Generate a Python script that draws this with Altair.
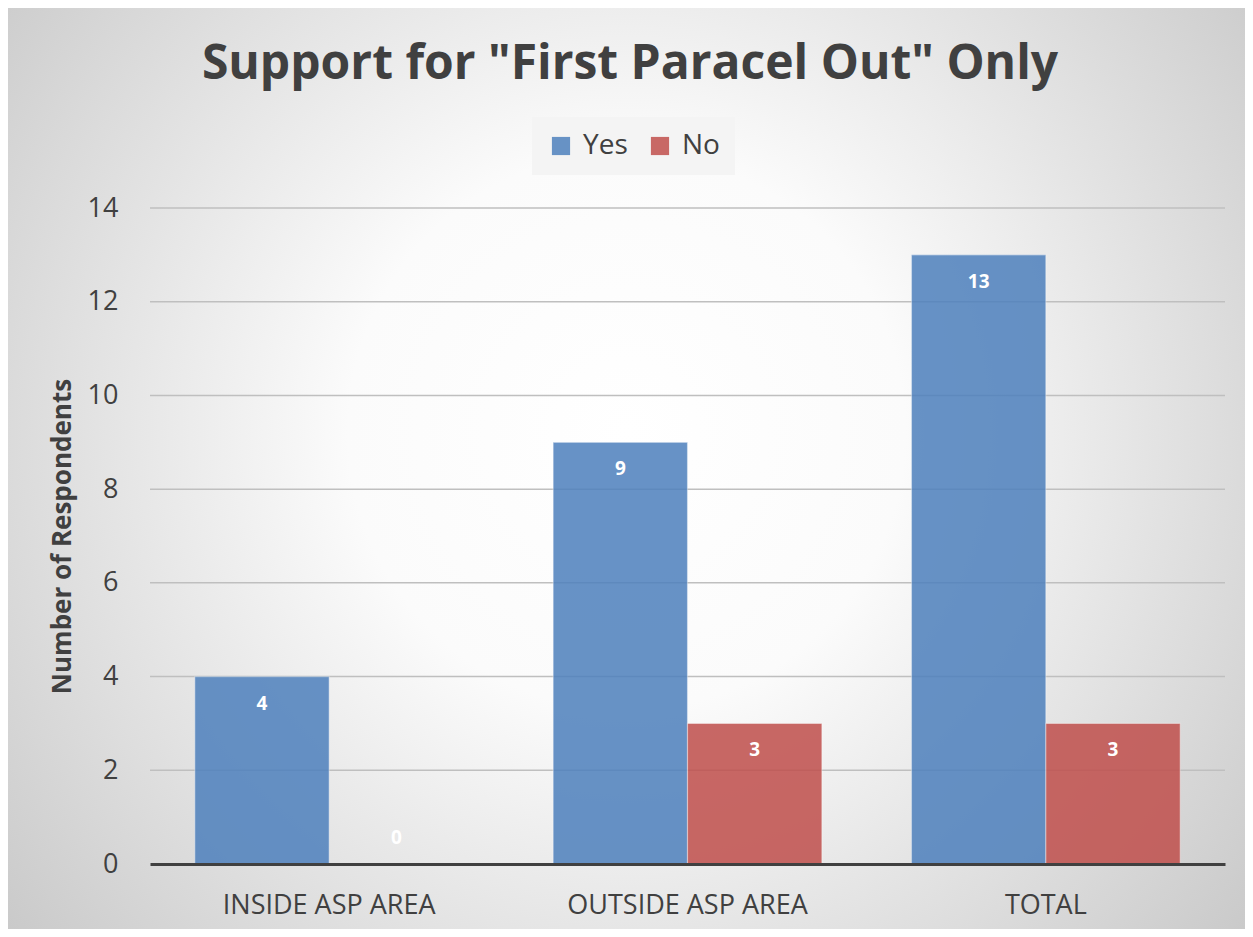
import altair as alt
import pandas as pd

categories = ["INSIDE ASP AREA", "OUTSIDE ASP AREA", "TOTAL"]
yes_values = [4, 9, 13]
no_values = [0, 3, 3]
series = ["Yes", "No"]
y_ticks = [0, 2, 4, 6, 8, 10, 12, 14]
title_text = 'Support for "First Paracel Out" Only'

rows = []
for c, y, n in zip(categories, yes_values, no_values):
    rows.append({"category": c, "series": "Yes", "value": y})
    rows.append({"category": c, "series": "No", "value": n})
df = pd.DataFrame(rows)
grid_df = pd.DataFrame({"value": y_ticks})

W, H = 1075, 656
PL, PT, PR, PB = 142, 200, 20, 65
FONT = "Open Sans"
TXT = "#404040"

bg = alt.Chart(pd.DataFrame({"a": [0]})).mark_rect(
    fill=alt.RadialGradient(
        gradient="radial",
        x1=0.5, y1=0.47, r1=0.0,
        x2=0.5, y2=0.47, r2=0.75,
        stops=[
            alt.GradientStop(offset=0, color="#ffffff"),
            alt.GradientStop(offset=0.3, color="#fbfbfb"),
            alt.GradientStop(offset=1, color="#bdbdbd"),
        ],
    )
).encode(
    x=alt.value(-PL), x2=alt.value(W + PR),
    y=alt.value(-PT), y2=alt.value(H + PB),
)

yscale = alt.Scale(domain=[0, 14])

grid = alt.Chart(grid_df).transform_filter("datum.value > 0").mark_rule(
    color="#bfbfbf", strokeWidth=1.5
).encode(
    y=alt.Y("value:Q", scale=yscale),
    x=alt.value(0), x2=alt.value(W),
)

xenc = alt.X("category:N", sort=categories, title=None,
             scale=alt.Scale(paddingInner=0.25, paddingOuter=0.125),
             axis=alt.Axis(labelAngle=0, labelFontSize=27, labelColor=TXT, labelFont=FONT,
                           labelPadding=28, labelLimit=0, ticks=False, domainColor=TXT,
                           domainWidth=3, grid=False, zindex=1))
yenc = alt.Y("value:Q", title="Number of Respondents", scale=yscale,
             axis=alt.Axis(values=y_ticks, labelFontSize=27,
                           labelColor=TXT, labelFont=FONT, labelPadding=32, ticks=False,
                           domain=False, grid=False, zindex=1,
                           titleFont=FONT, titleFontSize=26, titleFontWeight="bold",
                           titleColor=TXT, titlePadding=12))

bars = alt.Chart(df).mark_bar(opacity=0.86, strokeWidth=1.2, stroke="#ffffff", strokeOpacity=0.4).encode(
    x=xenc, y=yenc,
    xOffset=alt.XOffset("series:N", sort=series),
    color=alt.Color("series:N", sort=series, title=None,
                    scale=alt.Scale(domain=series, range=["#4f81bd", "#c0504d"]),
                    legend=alt.Legend(orient="none", legendX=382, legendY=-91,
                                      direction="horizontal", symbolType="square",
                                      symbolSize=330, symbolStrokeWidth=0,
                                      labelFontSize=28, labelFont=FONT, labelColor=TXT,
                                      fillColor="#f4f4f4", padding=15, columnPadding=18,
                                      labelOffset=8, zindex=1)),
)

lab_pos = alt.Chart(df).transform_filter("datum.value > 0").mark_text(
    dy=27, color="white", fontWeight="bold", fontSize=19, font=FONT
).encode(
    x=alt.X("category:N", sort=categories), y="value:Q",
    xOffset=alt.XOffset("series:N", sort=series),
    text="value:Q",
)
lab_zero = alt.Chart(df).transform_filter("datum.value == 0").mark_text(
    dy=-26, color="white", fontWeight="bold", fontSize=19, font=FONT
).encode(
    x=alt.X("category:N", sort=categories), y="value:Q",
    xOffset=alt.XOffset("series:N", sort=series),
    text="value:Q",
)

title = alt.Chart(pd.DataFrame({"t": [title_text]})).mark_text(
    font=FONT, fontSize=48, fontWeight="bold", color=TXT, align="center",
    baseline="alphabetic"
).encode(text="t:N", x=alt.value(480), y=alt.value(-129))

chart = alt.layer(bg, grid, bars, lab_pos, lab_zero, title).properties(
    width=W, height=H,
    autosize=alt.AutoSizeParams(type="none"),
    padding={"left": PL, "top": PT, "right": PR, "bottom": PB},
).configure_view(stroke=None).configure(background="#c8c8c8")

chart.save("out.html", embed_options={"renderer": "svg", "actions": False})
